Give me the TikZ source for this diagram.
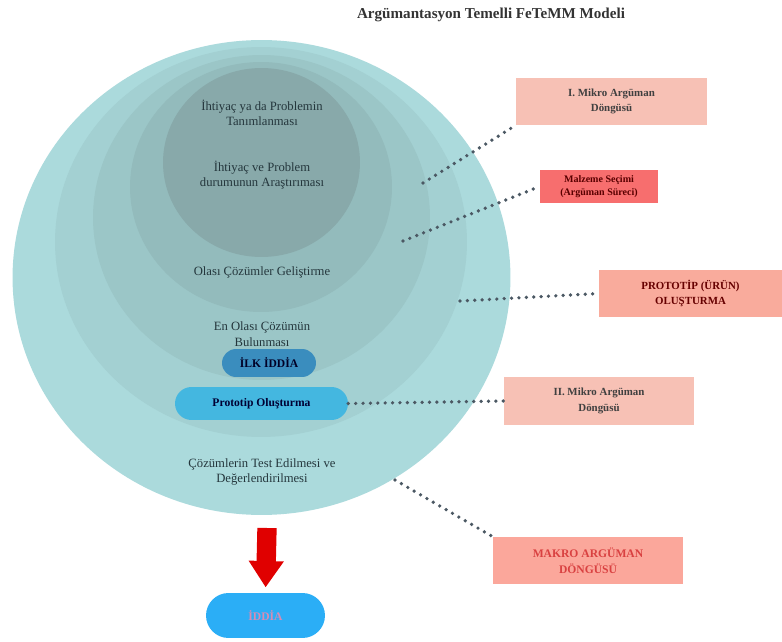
\documentclass[tikz,border=0pt]{standalone}
\usepackage{fontspec}
\setmainfont{Liberation Serif}
\usetikzlibrary{arrows.meta}

\definecolor{ringA}{HTML}{ABDADC}
\definecolor{ringB}{HTML}{A3D0D2}
\definecolor{ringC}{HTML}{9BC6C7}
\definecolor{ringD}{HTML}{93BBBC}
\definecolor{ringE}{HTML}{88A9AA}
\definecolor{ringink}{HTML}{24363C}
\definecolor{dotgray}{HTML}{4B5863}
\definecolor{mikrofill}{HTML}{F7C1B5}
\definecolor{malzfill}{HTML}{F76E6E}
\definecolor{protofill}{HTML}{F9AB9C}
\definecolor{makrofill}{HTML}{FBA79B}
\definecolor{ilkfill}{HTML}{3A8DBE}
\definecolor{pillfill}{HTML}{44B7E0}
\definecolor{iddiafill}{HTML}{2BAEF6}
\definecolor{arrowred}{HTML}{E00000}

\begin{document}
\begin{tikzpicture}[x=0.02cm,y=-0.02cm,
    ringtext/.style={align=center, text=ringink, font=\fontsize{7.2}{8.8}\selectfont},
    argbox/.style={rectangle, align=center, inner sep=0pt, text=black!75,
        font=\bfseries\fontsize{6.2}{9}\selectfont},
    pill/.style={rectangle, align=center, inner sep=0pt, font=\bfseries\fontsize{6.6}{8}\selectfont},
    dots/.style={draw=dotgray, line width=2.1pt, line cap=round, dash pattern=on 0pt off 4.2pt}]
    \useasboundingbox (0,0) rectangle (782,642);

    \fill[ringA] (261.5,277.5) ellipse [x radius=4.98cm, y radius=4.75cm];
    \fill[ringB] (261,242)     ellipse [x radius=4.12cm, y radius=3.90cm];
    \fill[ringC] (261.5,217.5) ellipse [x radius=3.37cm, y radius=3.25cm];
    \fill[ringD] (261,187)     ellipse [x radius=2.62cm, y radius=2.50cm];
    \fill[ringE] (261.5,162.5) ellipse [x radius=1.97cm, y radius=1.89cm];

    \node at (491,15) (title) {\bfseries\fontsize{8.6}{10}\selectfont\color{black!80}Argümantasyon Temelli FeTeMM Modeli};

    \node[ringtext] at (262,113) (tanim)  {İhtiyaç ya da Problemin\\Tanımlanması};
    \node[ringtext] at (262,175) (arastir) {İhtiyaç ve Problem\\durumunun Araştırıması};
    \node[ringtext] at (262,272) (olasi)  {Olası Çözümler Geliştirme};
    \node[ringtext] at (262,334) (enolasi) {En Olası Çözümün\\Bulunması};
    \node[ringtext] at (262,472) (test)   {Çözümlerin Test Edilmesi ve\\Değerlendirilmesi};

    \node[pill, fill=ilkfill, text=black!85!blue, rounded corners=0.28cm,
        minimum width=1.88cm, minimum height=0.56cm] at (269,363) (ilk) {İLK İDDİA};
    \node[pill, fill=pillfill, text=black!80!blue, rounded corners=0.33cm,
        minimum width=3.46cm, minimum height=0.66cm] at (261.5,403.5) (proto) {Prototip Oluşturma};
    \node[pill, fill=iddiafill, text=red!30!violet!45!white, rounded corners=0.45cm,
        minimum width=2.38cm, minimum height=0.9cm] at (265.5,615.5) (iddia) {İDDİA};

    \node[argbox, fill=mikrofill, minimum width=3.82cm, minimum height=0.94cm]
        at (611.5,101.5) (mikro1) {I. Mikro Argüman\\Döngüsü};
    \node[argbox, fill=malzfill, text=red!35!black, minimum width=2.36cm, minimum height=0.66cm,
        font=\bfseries\fontsize{5.7}{7.8}\selectfont] at (599,186.5) (malzeme) {Malzeme Seçimi\\(Argüman Süreci)};
    \node[argbox, fill=protofill, text=red!40!black, minimum width=3.66cm, minimum height=0.94cm]
        at (690.5,293.5) (urun) {PROTOTİP (ÜRÜN)\\OLUŞTURMA};
    \node[argbox, fill=mikrofill, minimum width=3.8cm, minimum height=0.96cm]
        at (599,401) (mikro2) {II. Mikro Argüman\\Döngüsü};
    \node[argbox, fill=makrofill, text=red!70!white!85!black, minimum width=3.8cm, minimum height=0.94cm,
        font=\bfseries\fontsize{6.6}{9}\selectfont] at (588,560.5) (makro) {MAKRO ARGÜMAN\\DÖNGÜSÜ};

    \coordinate (d1) at (423,183);
    \coordinate (d2) at (403,241);
    \coordinate (d3) at (460,301);
    \coordinate (d5) at (395,480);
    \coordinate (arrtop) at (267,528);

    \draw[dots] (d1) -- (mikro1.south west);
    \draw[dots] (d2) -- (malzeme.west);
    \draw[dots] (d3) -- (urun.west);
    \draw[dots] (proto.east) -- (mikro2.west);
    \draw[dots] (d5) -- (makro.north west);

    \draw[arrowred, line width=11pt, -{Triangle[width=19pt,length=15pt]}, shorten >=3pt]
        (arrtop) -- (iddia.north);
\end{tikzpicture}
\end{document}
